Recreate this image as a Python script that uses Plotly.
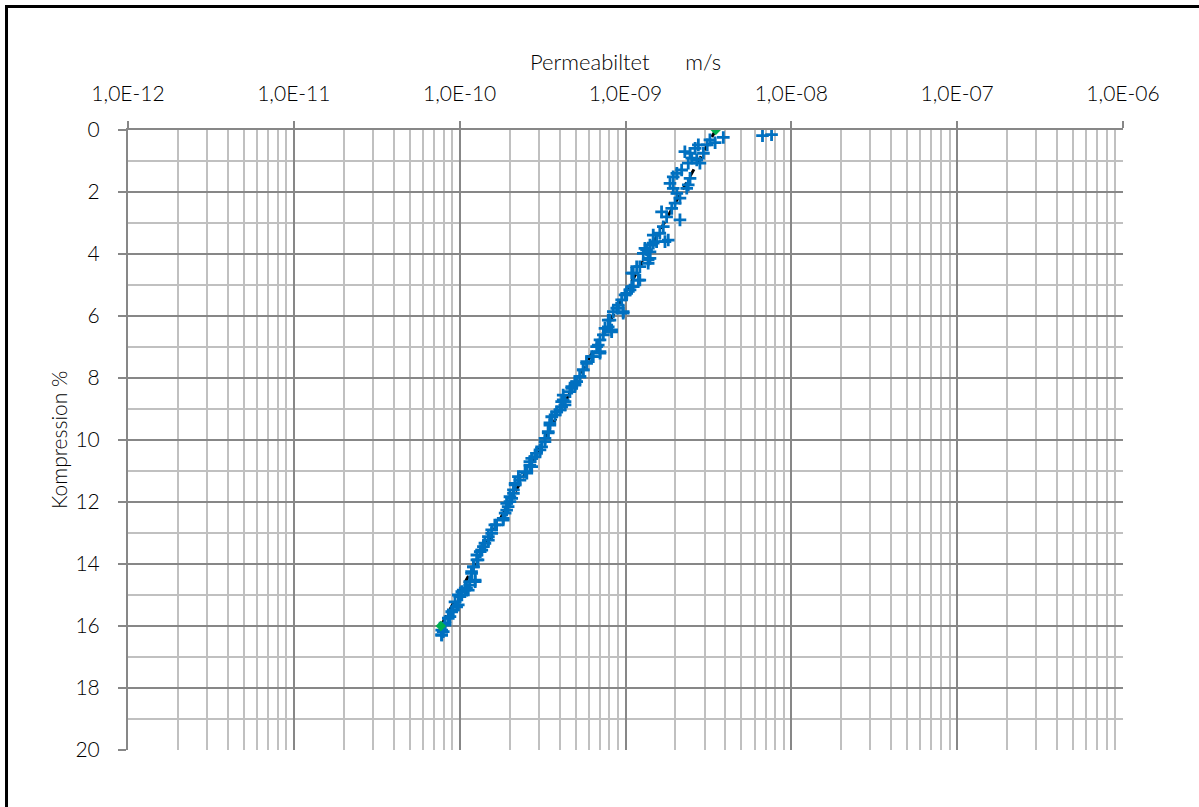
import plotly.graph_objects as go

# Measured permeability (m/s) vs compression (%), read along the measured trail
perm = [
    3.89e-9, 3.47e-9, 3.23e-9, 3.11e-9, 2.95e-9, 2.75e-9, 2.63e-9, 2.45e-9, 2.28e-9, 2.51e-9,
    2.69e-9, 2.81e-9, 2.39e-9, 2.18e-9, 2.04e-9, 1.94e-9, 2.45e-9, 2.39e-9, 2.34e-9, 1.855e-9,
    1.94e-9, 2.04e-9, 2.13e-9, 1.99e-9, 1.90e-9, 1.65e-9, 1.77e-9, 2.13e-9, 1.69e-9, 1.47e-9,
    1.61e-9, 1.81e-9, 1.54e-9, 1.405e-9, 1.31e-9, 1.73e-9, 1.47e-9, 1.34e-9, 1.28e-9, 1.405e-9,
    1.37e-9, 1.168e-9, 1.09e-9, 1.22e-9, 1.114e-9, 1.065e-9, 9.93e-10, 9.05e-10, 9.69e-10, 8.44e-10,
    7.87e-10, 8.25e-10, 7.52e-10, 7.02e-10, 6.70e-10, 7.02e-10, 6.25e-10, 5.83e-10, 5.56e-10, 5.31e-10,
    4.96e-10, 4.74e-10, 5.08e-10, 4.74e-10, 4.21e-10, 4.12e-10, 4.32e-10, 3.85e-10, 3.59e-10, 3.50e-10,
    3.42e-10, 3.27e-10, 3.12e-10, 2.91e-10, 2.72e-10, 2.65e-10, 2.48e-10, 2.26e-10, 2.16e-10, 2.11e-10,
    2.01e-10, 1.92e-10, 2.01e-10, 1.92e-10, 1.83e-10, 1.63e-10, 1.56e-10, 1.49e-10, 1.39e-10, 1.33e-10,
    1.27e-10, 1.21e-10, 1.18e-10, 1.24e-10, 1.15e-10, 1.10e-10, 1.03e-10, 9.81e-11, 9.37e-11, 9.59e-11,
    8.95e-11, 8.54e-11, 8.16e-11, 7.96e-11, 7.79e-11, 6.7e-9, 7.6e-9,
    1.405e-9, 1.37e-9, 1.22e-9, 1.114e-9, 1.195e-9, 1.09e-9, 1.017e-9, 9.48e-10, 8.85e-10, 9.69e-10,
    8.06e-10, 7.87e-10, 8.25e-10, 7.35e-10, 6.85e-10, 7.02e-10, 6.39e-10, 5.83e-10, 5.56e-10, 5.31e-10,
    4.96e-10, 4.62e-10, 4.21e-10, 4.12e-10,
    4.32e-10, 4.03e-10, 3.76e-10, 3.50e-10, 3.42e-10, 3.27e-10, 3.05e-10, 2.85e-10, 2.65e-10, 2.72e-10,
    2.54e-10, 2.31e-10, 2.16e-10, 2.11e-10, 2.06e-10, 1.96e-10, 1.88e-10, 1.83e-10, 1.67e-10, 1.56e-10,
    1.49e-10, 1.42e-10, 1.36e-10, 1.27e-10, 1.29e-10, 1.21e-10, 1.18e-10, 1.15e-10, 1.08e-10, 1.03e-10,
    1.24e-10, 1.127e-10, 1.004e-10, 9.81e-11, 9.15e-11, 8.74e-11, 8.16e-11, 7.79e-11, 7.79e-11,
]
compression = [
    0.24, 0.41, 0.32, 0.48, 0.75, 0.48, 0.59, 0.75, 0.70, 0.91,
    0.97, 1.07, 1.07, 1.29, 1.40, 1.51, 1.56, 1.77, 1.88, 1.72,
    1.88, 2.04, 2.20, 2.36, 2.53, 2.64, 2.80, 2.90, 3.12, 3.39,
    3.33, 3.55, 3.60, 3.71, 3.82, 3.60, 3.65, 3.87, 3.98, 4.14,
    4.30, 4.41, 4.62, 4.84, 5.05, 5.16, 5.32, 5.65, 5.86, 5.86,
    6.13, 6.45, 6.40, 6.77, 6.99, 7.15, 7.31, 7.53, 7.74, 7.96,
    8.17, 8.28, 8.12, 8.33, 8.55, 8.76, 8.87, 9.09, 9.25, 9.52,
    9.73, 9.95, 10.22, 10.43, 10.59, 10.81, 11.02, 11.18, 11.40, 11.61,
    11.83, 12.04, 11.99, 12.26, 12.53, 12.74, 13.01, 13.23, 13.44, 13.60,
    13.87, 14.09, 14.25, 14.52, 14.68, 14.78, 14.89, 15.00, 15.22, 15.38,
    15.54, 15.75, 15.97, 16.18, 16.29, 0.18, 0.15,
    3.93, 4.19, 4.41, 4.62, 4.84, 5.05, 5.27, 5.48, 5.75, 5.91,
    6.13, 6.35, 6.51, 6.61, 6.94, 7.20, 7.31, 7.47, 7.74, 7.96,
    8.23, 8.44, 8.71, 8.93,
    8.76, 9.03, 9.19, 9.45, 9.77, 10.05, 10.32, 10.54, 10.70, 10.86,
    11.07, 11.29, 11.45, 11.72, 11.88, 12.15, 12.36, 12.58, 12.74, 12.90,
    13.12, 13.33, 13.55, 13.71, 13.87, 14.09, 14.30, 14.57, 14.78, 15.00,
    14.57, 14.84, 15.05, 15.32, 15.48, 15.70, 15.91, 16.13, 16.29,
]

# Fit line end points (green diamonds)
fit_perm = [3.5e-9, 7.7e-11]
fit_compression = [0.0, 16.0]

x_tickvals = [1e-12, 1e-11, 1e-10, 1e-9, 1e-8, 1e-7, 1e-6]
x_ticktext = ["1,0E-12", "1,0E-11", "1,0E-10", "1,0E-09", "1,0E-08", "1,0E-07", "1,0E-06"]
x_minor = [m * 10.0 ** e for e in range(-12, -6) for m in range(2, 10)]

FONT = "Lato"
MAJOR = "#878787"
MINOR = "#c0c0c0"

fig = go.Figure()
fig.add_trace(go.Scatter(
    x=fit_perm, y=fit_compression, mode="lines",
    line=dict(color="black", width=3, dash="8px,7px"),
    showlegend=False, hoverinfo="skip",
))
fig.add_trace(go.Scatter(
    x=perm, y=compression, mode="markers",
    marker=dict(symbol="cross-thin", size=9, color="#0070C0",
                line=dict(width=2.8, color="#0070C0")),
    showlegend=False, hoverinfo="skip",
))
fig.add_trace(go.Scatter(
    x=fit_perm, y=fit_compression, mode="markers",
    marker=dict(symbol="diamond", size=8, color="#00B050"),
    showlegend=False, hoverinfo="skip",
))

fig.update_layout(
    width=1199, height=807,
    margin=dict(l=128, r=76, t=130, b=57),
    paper_bgcolor="white", plot_bgcolor="white",
    font=dict(family=FONT, size=20, color="#000000"),
    xaxis=dict(
        type="log", range=[-12, -6], side="top",
        tickmode="array", tickvals=x_tickvals, ticktext=x_ticktext,
        showgrid=True, gridcolor=MAJOR, gridwidth=2,
        ticks="outside", ticklen=7, tickwidth=2, tickcolor=MAJOR,
        ticklabelstandoff=12,
        showline=True, linecolor=MAJOR, linewidth=2, mirror=False,
        zeroline=False,
        minor=dict(tickmode="array", tickvals=x_minor, showgrid=True,
                   gridcolor=MINOR, gridwidth=2, ticks=""),
        tickfont=dict(family=FONT, size=21, weight=300, color="#000000"),
    ),
    yaxis=dict(
        range=[20, 0], tickmode="linear", tick0=0, dtick=2,
        showgrid=True, gridcolor=MAJOR, gridwidth=2,
        ticks="outside", ticklen=8, tickwidth=2, tickcolor=MAJOR,
        ticklabelstandoff=14,
        showline=True, linecolor=MAJOR, linewidth=2,
        zeroline=False,
        minor=dict(tick0=0, dtick=1, showgrid=True, gridcolor=MINOR,
                   gridwidth=2, ticks=""),
        tickfont=dict(family=FONT, size=21, weight=300, color="#000000"),
    ),
    annotations=[
        dict(text="Permeabiltet" + "\u00a0" * 6 + "m/s", xref="paper", yref="paper",
             x=0.4995, y=1.1097, xanchor="center", yanchor="middle",
             showarrow=False, font=dict(family=FONT, size=22, weight=300, color="#000000")),
        dict(text="Kompression %", xref="paper", yref="paper",
             x=-0.0704, y=0.5, xanchor="center", yanchor="middle", textangle=-90,
             showarrow=False, font=dict(family=FONT, size=21, weight=300, color="#000000")),
    ],
    shapes=[
        dict(type="line", xref="paper", yref="paper", x0=-0.1221, x1=-0.1221,
             y0=1.2016, y1=-0.1, line=dict(color="black", width=3)),
        dict(type="line", xref="paper", yref="paper", x0=-0.1236, x1=1.08,
             y0=1.1992, y1=1.1992, line=dict(color="black", width=3)),
    ],
)

fig.write_html("out.html")
